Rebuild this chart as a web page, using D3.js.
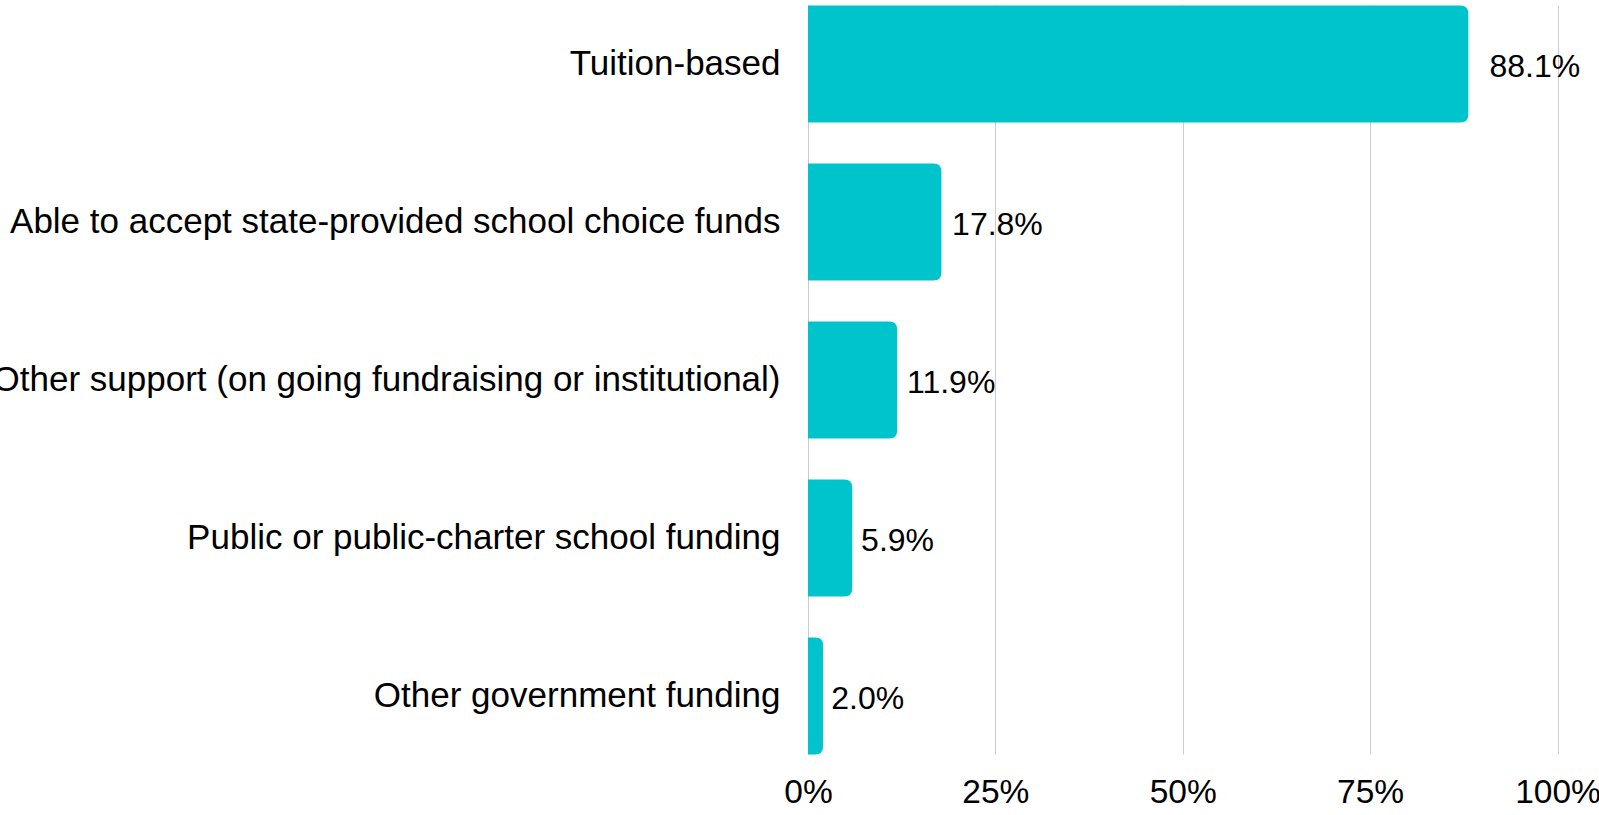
<!DOCTYPE html>
<html>
<head>
<meta charset="utf-8">
<script src="https://cdn.jsdelivr.net/npm/d3@7"></script>
<style>
	html, body { margin: 0; padding: 0; background: #fff; }
	svg { display: block; font-family: "Liberation Sans", Arial, sans-serif; }
	.grid line { stroke: #cccccc; stroke-width: 1; }
	.axis text { fill: #000; }
	.y-axis text { font-size: 35px; }
	.x-axis text { font-size: 33.5px; }
</style>
</head>
<body>
<svg id="funding-chart" width="1599" height="815"></svg>
<script>
	'use strict';

	// categories + values (percent)
	var categories = [
		'Tuition-based',
		'Able to accept state-provided school choice funds',
		'Other support (on going fundraising or institutional)',
		'Public or public-charter school funding',
		'Other government funding'
	];
	var values = [88.1, 17.8, 11.9, 5.9, 2.0];
	var tickValues = [0, 25, 50, 75, 100];

	var createFundingChart = function() {
		var chart = d3.select('#funding-chart'),
			margin = { top: 5.5, right: 41.5, bottom: 60.5, left: 808 },
			width = 1599 - margin.left - margin.right,
			height = 815 - margin.top - margin.bottom,
			barColor = '#00c4cc',
			radius = 8;

		var xScale = d3.scaleLinear()
			.domain([0, 100])
			.range([0, width]);

		var yScale = d3.scaleBand()
			.domain(categories)
			.range([0, height])
			.paddingInner(0.26)
			.paddingOuter(0);

		var g = chart.append('g')
			.attr('transform', 'translate(' + margin.left + ',' + margin.top + ')');

		// gridlines
		g.append('g')
			.attr('class', 'grid')
			.selectAll('line')
			.data(tickValues)
			.enter()
			.append('line')
			.attr('x1', function(d) { return Math.round(xScale(d)) + 0.5; })
			.attr('x2', function(d) { return Math.round(xScale(d)) + 0.5; })
			.attr('y1', 0)
			.attr('y2', height);

		// bars, only right side rounded
		var data = categories.map(function(c, i) { return { cat: c, value: values[i] }; });
		var bh = yScale.bandwidth();

		g.selectAll('.bar')
			.data(data)
			.enter()
			.append('path')
			.attr('class', 'bar')
			.attr('fill', barColor)
			.attr('d', function(d) {
				var x0 = xScale(0), x1 = xScale(d.value), y0 = yScale(d.cat),
					r = Math.min(radius, (x1 - x0) / 2);
				return 'M' + x0 + ',' + y0 +
					'H' + (x1 - r) +
					'Q' + x1 + ',' + y0 + ' ' + x1 + ',' + (y0 + r) +
					'V' + (y0 + bh - r) +
					'Q' + x1 + ',' + (y0 + bh) + ' ' + (x1 - r) + ',' + (y0 + bh) +
					'H' + x0 + 'Z';
			});

		// value labels
		g.selectAll('.value-label')
			.data(data)
			.enter()
			.append('text')
			.attr('class', 'value-label')
			.attr('x', function(d) { return xScale(d.value) + 8 + d.value * 0.15; })
			.attr('y', function(d) { return yScale(d.cat) + bh / 2 + 2; })
			.attr('dy', '0.35em')
			.style('font-size', '32px')
			.style('fill', '#000')
			.text(function(d) { return d.value.toFixed(1) + '%'; });

		// category labels
		var yAxis = d3.axisLeft(yScale).tickSize(0).tickPadding(27.5);
		g.append('g')
			.attr('class', 'axis y-axis')
			.call(yAxis)
			.call(function(sel) { sel.select('.domain').remove(); });

		// x axis
		var xAxis = d3.axisBottom(xScale)
			.tickValues(tickValues)
			.tickSize(0)
			.tickPadding(25)
			.tickFormat(function(d) { return d + '%'; });
		g.append('g')
			.attr('class', 'axis x-axis')
			.attr('transform', 'translate(0,' + height + ')')
			.call(xAxis)
			.call(function(sel) { sel.select('.domain').remove(); });
	};

	createFundingChart();
</script>
</body>
</html>
